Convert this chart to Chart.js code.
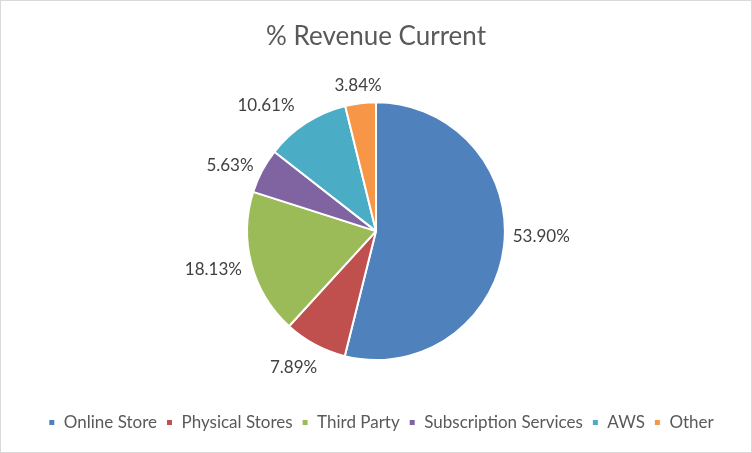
<!DOCTYPE html>
<html><head><meta charset="utf-8">
<script src="https://cdn.jsdelivr.net/npm/chart.js@4/dist/chart.umd.min.js"></script>
<style>html,body{margin:0;padding:0;background:#fff;}#wrap{width:752px;height:453px;position:relative;}</style>
</head><body><div id="wrap"><canvas id="c" width="752" height="453"></canvas></div>
<script>
const categories = ["Online Store", "Physical Stores", "Third Party", "Subscription Services", "AWS", "Other"];
const revenueShare = [53.90, 7.89, 18.13, 5.63, 10.61, 3.84];
const valueLabels = ["53.90%", "7.89%", "18.13%", "5.63%", "10.61%", "3.84%"];
const sliceColors = ["#4F81BD", "#C0504D", "#9BBB59", "#8064A2", "#4BACC6", "#F79646"];
const chartTitle = "% Revenue Current";

const FONT = "Lato, 'Open Sans', sans-serif";

const frame = {
  id: 'frame',
  beforeDraw(chart) {
    const ctx = chart.ctx;
    ctx.save();
    ctx.fillStyle = '#fff';
    ctx.fillRect(0, 0, chart.width, chart.height);
    ctx.restore();
  },
  afterLayout(chart) {
    // nudge the legend slightly right, like the original
    if (chart.legend) { chart.legend.left += 5; chart.legend.right += 5; }
  },
  afterDraw(chart) {
    const ctx = chart.ctx;
    ctx.save();
    ctx.strokeStyle = '#D9D9D9';
    ctx.lineWidth = 1;
    ctx.strokeRect(0.5, 0.5, chart.width - 1, chart.height - 1);
    ctx.restore();
  }
};

const outsideLabels = {
  id: 'outsideLabels',
  defaults: { angleShift: [], gap: [] },
  afterDatasetsDraw(chart, args, opts) {
    const ctx = chart.ctx;
    const meta = chart.getDatasetMeta(0);
    ctx.save();
    ctx.font = "17px " + FONT;
    ctx.fillStyle = '#404040';
    ctx.textAlign = 'center';
    ctx.textBaseline = 'middle';
    meta.data.forEach((arc, i) => {
      const p = arc.getProps(['x', 'y', 'startAngle', 'endAngle', 'outerRadius'], true);
      const mid = (p.startAngle + p.endAngle) / 2 + (opts.angleShift[i] || 0) * Math.PI / 180;
      const d = p.outerRadius + (opts.gap[i] || 30);
      ctx.fillText(valueLabels[i], p.x + Math.cos(mid) * d, p.y + Math.sin(mid) * d);
    });
    ctx.restore();
  }
};

new Chart(document.getElementById('c'), {
  type: 'pie',
  data: {
    labels: categories,
    datasets: [{
      data: revenueShare,
      backgroundColor: sliceColors,
      borderColor: '#ffffff',
      borderWidth: 2
    }]
  },
  options: {
    responsive: false,
    animation: false,
    devicePixelRatio: 1,
    layout: { padding: { top: 0, bottom: 12, left: 0, right: 0 } },
    plugins: {
      title: {
        display: true,
        text: chartTitle,
        color: '#595959',
        font: { family: FONT, size: 26, weight: 'normal' },
        padding: { top: 21, bottom: 49 }
      },
      legend: {
        position: 'bottom',
        title: { display: true, text: '', font: { size: 10 }, padding: { top: 16, bottom: 16 } },
        labels: {
          color: '#595959',
          font: { family: FONT, size: 17 },
          boxWidth: 7,
          boxHeight: 7,
          padding: 9
        }
      },
      outsideLabels: {
        angleShift: [-5.2, 3.0, 1.6, -3.7, -8.4, -0.1],
        gap: [36.4, 30.1, 38.2, 31.1, 37.7, 18.1]
      },
      tooltip: { enabled: false }
    }
  },
  plugins: [frame, outsideLabels]
});
</script>
</body></html>
